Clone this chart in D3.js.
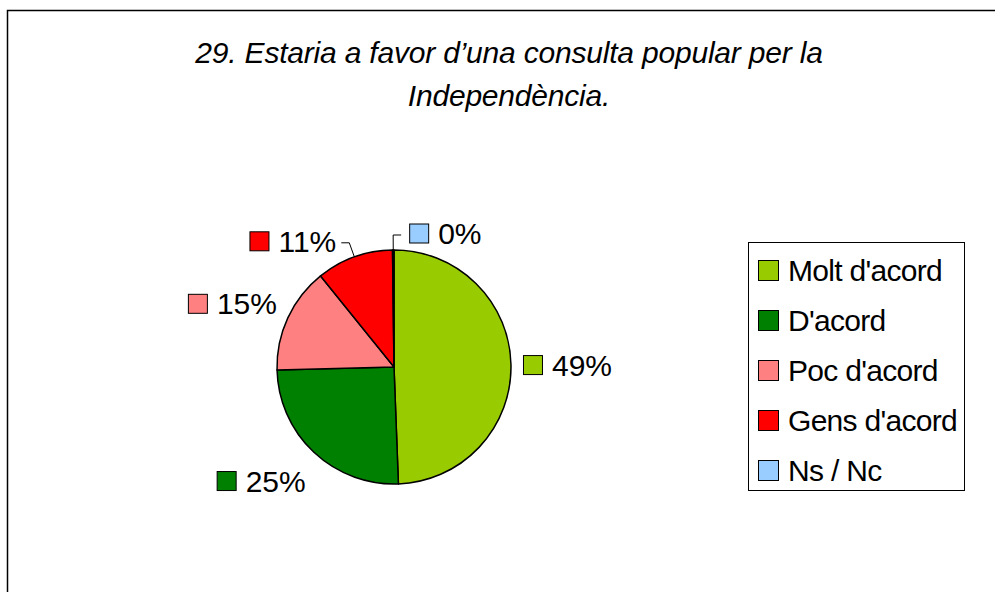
<!DOCTYPE html>
<html>
<head>
<meta charset="utf-8">
<script src="https://cdn.jsdelivr.net/npm/d3@7"></script>
<style>
  body { margin: 0; background: #fff; }
  svg { display: block; font-family: "Liberation Sans", Arial, sans-serif; }
</style>
</head>
<body>
<svg id="chart" width="995" height="592"></svg>
<script>
// data
const titleLines = ['29. Estaria a favor d’una consulta popular per la', 'Independència.']
const categories = ["Molt d'acord", "D'acord", "Poc d'acord", "Gens d'acord", 'Ns / Nc']
const values = [49.4, 25.2, 14.6, 10.6, 0.2]
const colors = ['#99CC00', '#008000', '#FF8080', '#FF0000', '#99CCFF']

const cx = 394, cy = 367, radius = 117
const fontSize = 30

const svg = d3.select('#chart')

// outer frame (right and bottom run off the picture)
svg.append('rect')
    .attr('x', 7.5).attr('y', 10.5)
    .attr('width', 1100).attr('height', 1000)
    .attr('fill', 'white')
    .attr('stroke', 'black').attr('stroke-width', 1.5)

// title
svg.append('g').selectAll('text')
    .data(titleLines)
    .enter().append('text')
    .attr('x', 509)
    .attr('y', (d, i) => 63 + i * 43)
    .attr('text-anchor', 'middle')
    .attr('font-size', 30)
    .attr('font-style', 'italic')
    .attr('letter-spacing', -0.2)
    .text(d => d)

const color = d3.scaleOrdinal().domain(categories).range(colors)
const fmt = v => d3.format('.0f')(v) + '%'

const pie = d3.pie().sort(null).value(d => d.value)
const arc = d3.arc().innerRadius(0).outerRadius(radius)
const arcs = pie(categories.map((c, i) => ({ name: c, value: values[i] })))

const g = svg.append('g').attr('transform', `translate(${cx},${cy})`)

g.selectAll('path')
    .data(arcs)
    .enter().append('path')
    .attr('d', arc)
    .attr('fill', d => color(d.data.name))
    .attr('stroke', 'black')
    .attr('stroke-width', 1.5)
    .attr('stroke-linejoin', 'round')

// data labels: swatch + percent, placed outside the slice
const sw = 19, gap = 10
arcs.forEach(a => {
    const mid = (a.startAngle + a.endAngle) / 2
    const dx = Math.sin(mid), dy = -Math.cos(mid)
    const lab = g.append('g')
    const txt = lab.append('text')
        .attr('font-size', fontSize)
        .text(fmt(a.data.value))
    const tw = txt.node().getComputedTextLength()
    const bw = sw + gap + tw, bh = sw
    let x0, y0
    if (a.data.value < 12) {
        // small slice: leader line with an elbow
        const e = [dx * radius, dy * radius]
        const k = [dx * (radius + 15), dy * (radius + 15)]
        const dir = dx > -0.1 ? 1 : -1
        const h = [k[0] + dir * 8, k[1]]
        g.append('path')
            .attr('d', d3.line()([e, k, h]))
            .attr('fill', 'none')
            .attr('stroke', 'black')
            .attr('stroke-width', 1)
        x0 = dir > 0 ? h[0] + 8 : h[0] - 5 - bw
        y0 = h[1] - bh / 2 - 2
    } else {
        const p = [dx * (radius + 12), dy * (radius + 12)]
        x0 = p[0] + (Math.abs(dx) < 0.2 ? -bw / 2 : (dx > 0 ? 0 : -bw))
        y0 = p[1] + (Math.abs(dy) < 0.2 ? -bh / 2 : (dy > 0 ? 10 : -bh))
    }
    lab.append('rect')
        .attr('x', x0 + 0.5).attr('y', y0 + 0.5)
        .attr('width', sw).attr('height', sw)
        .attr('fill', color(a.data.name))
        .attr('stroke', 'black').attr('stroke-width', 1)
    txt.attr('x', x0 + sw + gap).attr('y', y0 + bh / 2 + 11)
})

// legend
const legend = svg.append('g')
legend.append('rect')
    .attr('x', 748.5).attr('y', 242.5)
    .attr('width', 216).attr('height', 248)
    .attr('fill', 'white')
    .attr('stroke', 'black').attr('stroke-width', 1)

const ly = d3.scalePoint().domain(categories).range([270, 470])
const items = legend.selectAll('g.item')
    .data(categories)
    .enter().append('g')
    .attr('class', 'item')
    .attr('transform', d => `translate(758,${ly(d)})`)
items.append('rect')
    .attr('x', 0.5).attr('y', -9.5)
    .attr('width', 20).attr('height', 20)
    .attr('fill', d => color(d))
    .attr('stroke', 'black').attr('stroke-width', 1)
items.append('text')
    .attr('x', 30).attr('y', 11)
    .attr('font-size', fontSize)
    .attr('letter-spacing', -0.7)
    .text(d => d)
</script>
</body>
</html>
